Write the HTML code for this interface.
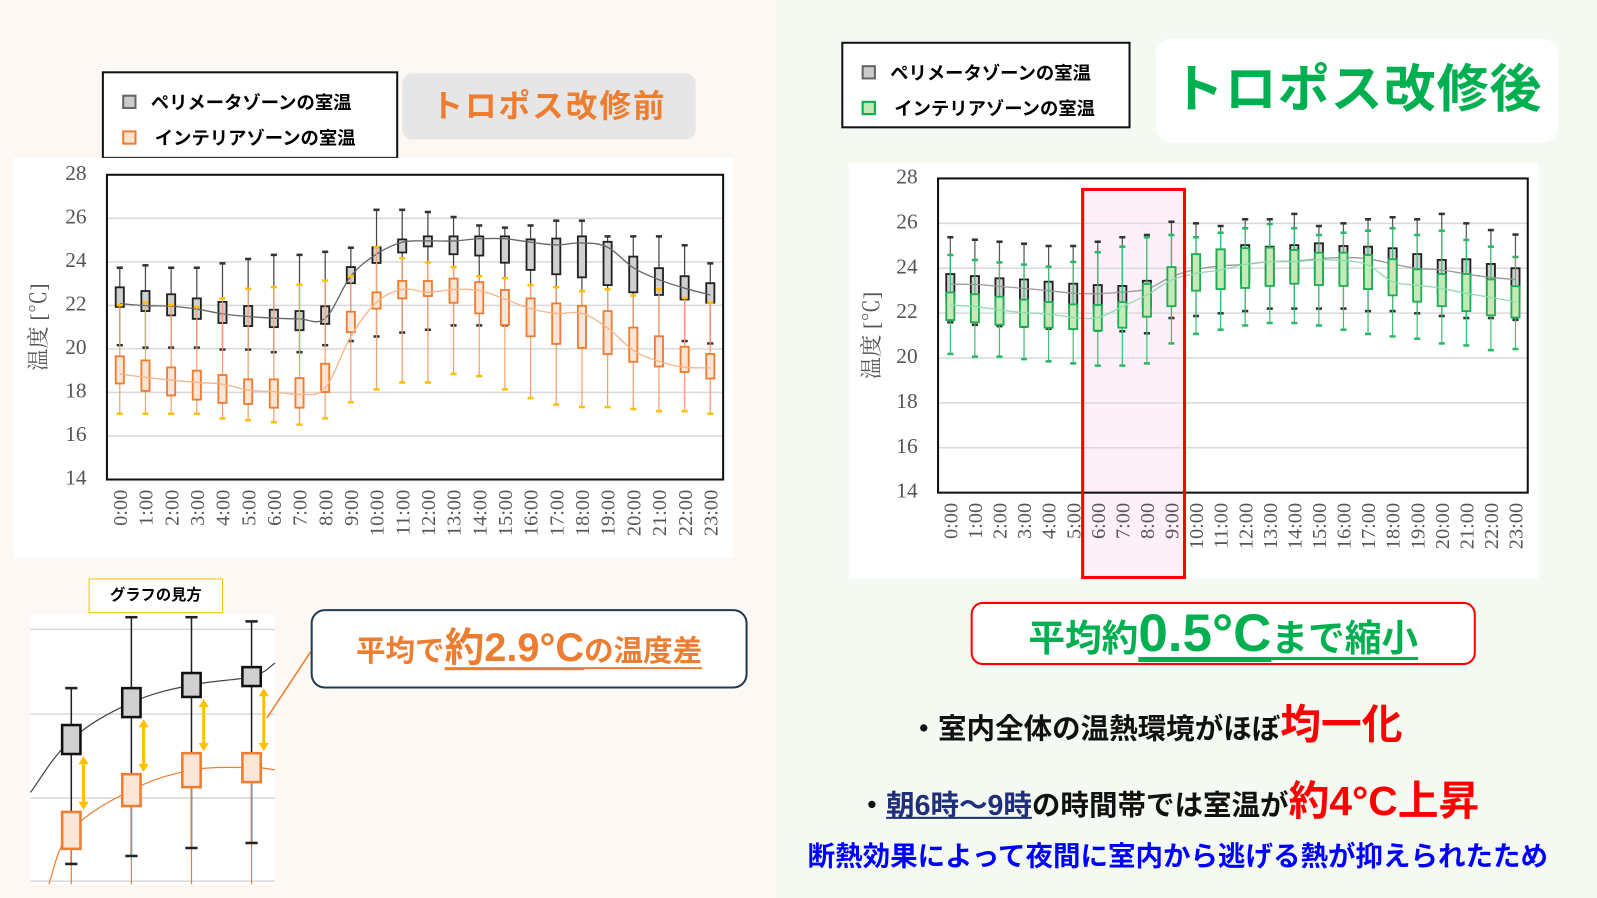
<!DOCTYPE html>
<html><head><meta charset="utf-8">
<style>
body{margin:0;width:1597px;height:898px;overflow:hidden;font-family:"Liberation Sans","Noto Sans CJK JP",sans-serif;background:#f4f9f2;}
.abs{position:absolute;}
#wrap{position:absolute;left:0;top:0;width:1568px;height:882px;transform:scale(1.0185);transform-origin:0 0;}
</style></head>
<body>
<div id="wrap">
<div class="abs" style="left:0;top:0;width:762px;height:882px;background:#fdf8f4;"></div>
<div class="abs" style="left:762px;top:0;width:806px;height:882px;background:#f4f9f2;"></div>

<div class="abs" style="left:100px;top:70px;width:287px;height:82px;border:2px solid #111;background:#fff;font-size:18px;font-weight:bold;">
 <div style="position:absolute;left:18px;top:15px;white-space:nowrap;"><span style="display:inline-block;width:10px;height:10px;border:2px solid #666;background:#ccc;margin-right:14px;"></span>ペリメータゾーンの室温</div>
 <div style="position:absolute;left:18px;top:50px;white-space:nowrap;"><span style="display:inline-block;width:10px;height:10px;border:2px solid #ed7d31;background:#fbe3d3;margin-right:18px;"></span>インテリアゾーンの室温</div>
</div>
<div class="abs" style="left:395px;top:72px;width:288px;height:65px;background:#e6e6e6;border-radius:10px;color:#ed7d31;font-size:31px;font-weight:bold;line-height:65px;text-align:center;letter-spacing:2px;">トロポス改修前</div>

<div class="abs" style="left:826px;top:41px;width:280px;height:81px;border:2px solid #111;background:#fff;font-size:18px;font-weight:bold;">
 <div style="position:absolute;left:18px;top:15px;white-space:nowrap;"><span style="display:inline-block;width:10px;height:10px;border:2px solid #666;background:#ccc;margin-right:14px;"></span>ペリメータゾーンの室温</div>
 <div style="position:absolute;left:18px;top:50px;white-space:nowrap;"><span style="display:inline-block;width:10px;height:10px;border:2px solid #00b050;background:#c6e9b8;margin-right:18px;"></span>インテリアゾーンの室温</div>
</div>
<div class="abs" style="left:1135px;top:38px;width:395px;height:102px;background:#fff;border-radius:16px;color:#00b050;font-size:51px;font-weight:bold;line-height:100px;text-align:center;letter-spacing:1px;">トロポス改修後</div>

<svg class="abs" style="left:0;top:0" width="1568" height="882" id="svg"></svg>

<div class="abs" style="left:87px;top:568px;width:130px;height:32px;border:1px solid #f5c000;background:#fff;font-size:15px;font-weight:bold;text-align:center;line-height:32px;">グラフの見方</div>

<div class="abs" style="left:305px;top:598px;width:425px;height:74px;border:2px solid #1f3b4d;border-radius:14px;background:#fff;color:#ed7d31;font-weight:bold;text-align:center;line-height:74px;font-size:29px;white-space:nowrap;">平均で<span style="font-size:39px;text-decoration:underline;text-underline-offset:6px;">約2.9°C</span><span style="text-decoration:underline;text-underline-offset:6px;">の温度差</span></div>

<div class="abs" style="left:953px;top:591px;width:492px;height:58px;border:2px solid #ff0000;border-radius:12px;background:#fff;color:#00b050;font-weight:bold;text-align:center;line-height:58px;font-size:36px;white-space:nowrap;">平均約<span style="font-size:52px;text-decoration:underline;text-underline-offset:6px;">0.5°C</span><span style="text-decoration:underline;text-underline-offset:6px;">まで縮小</span></div>

<div class="abs" style="left:893px;top:679px;font-size:28px;font-weight:bold;color:#111;white-space:nowrap;">・室内全体の温熱環境がほぼ<span style="color:#ff0000;font-size:40px;">均一化</span></div>
<div class="abs" style="left:842px;top:754px;font-size:28px;font-weight:bold;color:#111;white-space:nowrap;">・<span style="color:#1f2f7a;text-decoration:underline;">朝6時～9時</span>の時間帯では室温が<span style="color:#ff0000;font-size:40px;">約4°C上昇</span></div>
<div class="abs" style="left:793px;top:819px;font-size:27px;font-weight:bold;color:#0000ff;white-space:nowrap;">断熱効果によって夜間に室内から逃げる熱が抑えられたため</div>
</div>

<script>
const hours = ["0:00","1:00","2:00","3:00","4:00","5:00","6:00","7:00","8:00","9:00","10:00","11:00","12:00","13:00","14:00","15:00","16:00","17:00","18:00","19:00","20:00","21:00","22:00","23:00"];
const yTicks = [14,16,18,20,22,24,26,28];
// Before: perimeter
const bPerWhiskerTop = [23.73,23.84,23.73,23.73,23.93,24.13,24.32,24.32,24.46,24.65,26.39,26.39,26.29,26.06,25.67,25.57,25.67,25.89,25.89,25.17,25.17,25.17,24.76,23.93];
const bPerBoxTop = [22.83,22.66,22.51,22.32,22.16,21.97,21.80,21.74,21.96,23.76,24.67,25.03,25.17,25.17,25.17,25.17,25.03,25.07,25.17,24.92,24.24,23.71,23.34,23.02];
const bPerBoxBottom = [21.93,21.74,21.54,21.38,21.19,21.05,21.00,20.86,21.15,23.02,23.95,24.43,24.71,24.35,24.29,23.96,23.63,23.43,23.29,22.93,22.60,22.48,22.27,22.12];
const bPerWhiskerBottom = [20.17,20.06,20.06,20.06,19.97,19.97,19.85,19.85,20.17,20.36,20.57,20.75,20.88,21.08,21.08,21.08,20.99,20.99,20.99,20.83,20.60,20.36,20.36,20.25];
const bPerMean = [22.08,21.99,21.96,21.83,21.61,21.49,21.41,21.38,21.41,23.34,24.35,24.90,24.96,24.96,25.06,25.06,24.90,24.78,24.87,24.67,23.73,23.18,22.79,22.48];
// Before: interior
const bIntWhiskerTop = [22.01,22.13,22.02,21.93,22.32,22.76,22.84,22.95,23.14,23.34,24.68,24.17,23.97,23.76,23.34,23.25,22.93,22.84,22.65,22.74,22.45,22.74,22.34,22.12];
const bIntBoxTop = [19.66,19.47,19.15,19.00,18.80,18.60,18.60,18.66,19.32,21.71,22.60,23.12,23.12,23.23,23.07,22.71,22.32,22.09,21.98,21.74,20.98,20.58,20.10,19.77];
const bIntBoxBottom = [18.41,18.07,17.86,17.67,17.52,17.47,17.30,17.30,18.02,20.77,21.85,22.32,22.43,22.12,21.63,21.10,20.58,20.23,20.05,19.76,19.41,19.19,18.94,18.64];
const bIntWhiskerBottom = [17.02,17.02,17.02,17.02,16.81,16.72,16.63,16.52,16.81,17.55,18.14,18.46,18.46,18.85,18.75,18.14,17.74,17.44,17.33,17.33,17.24,17.14,17.14,17.02];
const bIntMean = [18.85,18.69,18.57,18.46,18.38,18.11,18.03,17.91,18.22,20.57,22.13,22.73,22.60,22.73,22.68,22.29,21.85,21.63,21.63,20.96,19.94,19.43,19.16,19.13];
// After: perimeter
const aPerWhiskerTop = [25.38,25.27,25.18,25.09,24.99,24.99,25.18,25.38,25.48,26.07,26.00,25.88,26.18,26.18,26.42,25.88,26.00,26.18,26.27,26.18,26.42,26.00,25.70,25.50];
const aPerBoxTop = [23.74,23.65,23.55,23.50,23.40,23.31,23.25,23.21,23.44,23.92,24.59,24.84,25.03,24.96,25.03,25.11,24.99,24.96,24.89,24.63,24.37,24.40,24.19,24.00];
const aPerBoxBottom = [22.66,22.55,22.43,22.36,22.29,22.26,22.21,22.21,22.26,22.36,23.18,23.10,23.33,23.25,23.47,23.50,23.25,23.50,23.40,23.25,22.95,22.80,22.66,22.70];
const aPerWhiskerBottom = [21.59,21.48,21.42,21.39,21.30,21.30,21.22,21.19,21.10,21.78,21.87,21.99,22.09,22.20,22.20,22.20,22.20,22.09,22.09,21.99,21.87,21.78,21.78,21.70];
const aPerMean = [23.28,23.28,23.19,23.10,23.00,22.89,22.86,22.94,23.07,23.62,23.95,24.10,24.17,24.29,24.32,24.42,24.48,24.42,24.19,23.99,23.92,23.74,23.59,23.50];
// After: interior
const aIntWhiskerTop = [24.59,24.37,24.26,24.16,24.07,24.28,24.71,24.96,25.38,25.48,25.38,25.58,25.78,25.97,25.78,25.48,25.58,25.67,25.78,25.48,25.67,25.26,24.96,24.50];
const aIntBoxTop = [22.92,22.84,22.73,22.60,22.49,22.39,22.36,22.49,23.30,24.05,24.63,24.84,24.89,24.92,24.81,24.69,24.69,24.59,24.40,23.95,23.74,23.74,23.50,23.20];
const aIntBoxBottom = [21.69,21.59,21.48,21.39,21.35,21.29,21.22,21.35,21.84,22.31,23.00,23.07,23.12,23.21,23.31,23.25,23.21,23.07,22.79,22.51,22.31,22.09,21.90,21.80];
const aIntWhiskerBottom = [20.18,20.06,20.06,19.95,19.85,19.76,19.66,19.66,19.76,20.65,21.07,21.26,21.45,21.56,21.56,21.45,21.26,21.07,20.96,20.86,20.65,20.56,20.35,20.40];
const aIntMean = [22.36,22.29,22.14,22.02,21.96,21.81,21.80,22.29,22.81,23.47,23.77,23.92,24.17,24.29,24.29,24.37,24.34,24.14,23.40,23.25,23.10,22.88,22.70,22.50];
// Guide inset (illustrative 4 boxes)
const gPerTop=[25.43,26.31,26.67,26.81], gPerBot=[24.74,25.62,26.10,26.36], gPerWT=[26.31,28.0,28.0,27.9], gPerWB=[22.12,22.31,22.50,22.62];
const gIntTop=[23.36,24.26,24.76,24.76], gIntBot=[22.48,23.50,23.95,24.07];
const gGrid=[27.71,25.69,23.69,21.71];

const NS="http://www.w3.org/2000/svg";
const svg=document.getElementById('svg');
function el(tag,attrs,parent){const e=document.createElementNS(NS,tag);for(const k in attrs)e.setAttribute(k,attrs[k]);(parent||svg).appendChild(e);return e;}
function smooth(pts){let d=`M${pts[0][0]},${pts[0][1]}`;for(let i=0;i<pts.length-1;i++){const p0=pts[i-1]||pts[i],p1=pts[i],p2=pts[i+1],p3=pts[i+2]||p2;const t=0.18;d+=` C${p1[0]+(p2[0]-p0[0])*t},${p1[1]+(p2[1]-p0[1])*t} ${p2[0]-(p3[0]-p1[0])*t},${p2[1]-(p3[1]-p1[1])*t} ${p2[0]},${p2[1]}`;}return d;}

function chart(o){
 const g=el('g',{});
 
 
 el('rect',{x:o.bg[0],y:o.bg[1],width:o.bg[2],height:o.bg[3],fill:'#fff'},g);
 const y=v=>o.y1+(28-v)/14*(o.y2-o.y1);
 const bw=(o.x2-o.x1)/hours.length;
 const x=i=>o.x1+(i+0.5)*bw;
 if(o.hl){const r=el('rect',{x:o.hl[0],y:o.hl[1],width:o.hl[2],height:o.hl[3],fill:'#fdf0f8',stroke:'none'},g);}
 yTicks.forEach(t=>{
  if(t>14&&t<28){const l=el('line',{x1:o.x1,x2:o.x2,y1:y(t),y2:y(t),stroke:'#d9d9d9','stroke-width':1.5},g);}
  const tx=el('text',{x:o.x1-20,y:y(t)+7+o.lblOff,'text-anchor':'end','font-family':'Liberation Serif, serif','font-size':21,fill:'#555'},g);tx.textContent=t;
  
  
 });
 hours.forEach((h,i)=>{const tx=el('text',{transform:`translate(${x(i)+7},${o.y2+10}) rotate(-90)`,'text-anchor':'end','font-family':'Liberation Serif, serif','font-size':20,fill:'#555'},g);tx.textContent=h;
  
  });
 const yt=el('text',{transform:`translate(${o.ytx},${(o.y1+o.y2)/2}) rotate(-90)`,'text-anchor':'middle','font-size':22,fill:'#555','font-family':'Liberation Serif, Noto Serif CJK SC, serif'},g);yt.textContent='温度 [℃]';
 
 
 o.series.forEach(s=>{
  const w=8;
  hours.forEach((h,i)=>{
   const cx=x(i);
   el('line',{x1:cx,x2:cx,y1:y(s.wt[i]),y2:y(s.wb[i]),stroke:s.wc,'stroke-width':1.2},g);
   el('line',{x1:cx-3,x2:cx+3,y1:y(s.wt[i]),y2:y(s.wt[i]),stroke:s.cap,'stroke-width':2.5},g);
   el('line',{x1:cx-3,x2:cx+3,y1:y(s.wb[i]),y2:y(s.wb[i]),stroke:s.cap,'stroke-width':2.5},g);
   const b=el('rect',{x:cx-w/2,y:y(s.bt[i]),width:w,height:y(s.bb[i])-y(s.bt[i]),fill:s.fill,stroke:s.stroke,'stroke-width':1.8},g);
   
   
  });
  const p=el('path',{d:smooth(s.m.map((v,i)=>[x(i),y(v)])),fill:'none',stroke:s.line,'stroke-width':1.3},g);
  
  
 });
 el('rect',{x:o.x1,y:o.y1,width:o.x2-o.x1,height:o.y2-o.y1,fill:'none',stroke:'#111','stroke-width':2},g);
 if(o.hl){const r=el('rect',{x:o.hl[0],y:o.hl[1],width:o.hl[2],height:o.hl[3],fill:'none',stroke:'#ff0000','stroke-width':3},g);}
}
chart({name:'chart-before',bg:[13,155,707,393],x1:105,x2:710,y1:171.6,y2:470.8,lblOff:-2,ytx:45,series:[
 {key:'perimeter',wt:bPerWhiskerTop,bt:bPerBoxTop,bb:bPerBoxBottom,wb:bPerWhiskerBottom,m:bPerMean,wc:'#444',cap:'#333',fill:'#d0d0d0',stroke:'#222',line:'#666'},
 {key:'interior',wt:bIntWhiskerTop,bt:bIntBoxTop,bb:bIntBoxBottom,wb:bIntWhiskerBottom,m:bIntMean,wc:'#f4a070',cap:'#ffc000',fill:'#fbe5d6',stroke:'#ed7d31',line:'#f8b58a'}]});
chart({name:'chart-after',bg:[833,160,677,408],x1:921,x2:1500,y1:175.2,y2:483.7,lblOff:-2,ytx:863,hl:[1063,186,100,381],series:[
 {key:'perimeter',wt:aPerWhiskerTop,bt:aPerBoxTop,bb:aPerBoxBottom,wb:aPerWhiskerBottom,m:aPerMean,wc:'#555',cap:'#333',fill:'#d0d0d0',stroke:'#222',line:'#999'},
 {key:'interior',wt:aIntWhiskerTop,bt:aIntBoxTop,bb:aIntBoxBottom,wb:aIntWhiskerBottom,m:aIntMean,wc:'#3cc07a',cap:'#2bb866',fill:'#c6e9b8',stroke:'#1fae55',line:'#8fdcb0'}]});

// Guide inset
(function(){
 const g=el('g',{});
 
 
 el('rect',{x:30,y:603,width:240,height:265,fill:'#fff'},g);
 const y=v=>606+(28-v)*41.2;
 const xs=i=>70+i*59;
 gGrid.forEach(t=>el('line',{x1:30,x2:270,y1:y(t),y2:y(t),stroke:'#d9d9d9','stroke-width':1.5},g));
 el('path',{d:smooth([[30,778]].concat(gPerTop.map((v,i)=>[xs(i),(y(v)+y(gPerBot[i]))/2])).concat([[270,651]])),fill:'none',stroke:'#444','stroke-width':1.2},g);
 el('path',{d:smooth([[48,868]].concat(gIntTop.map((v,i)=>[xs(i),(y(v)+y(gIntBot[i]))/2])).concat([[270,756]])),fill:'none',stroke:'#ed7d31','stroke-width':1.2},g);
 gPerTop.forEach((v,i)=>{const cx=xs(i);
  el('line',{x1:cx,x2:cx,y1:y(gPerWT[i]),y2:y(gPerWB[i]),stroke:'#222','stroke-width':1.5},g);
  el('line',{x1:cx,x2:cx,y1:y(gIntBot[i]),y2:868,stroke:'#ed7d31','stroke-width':1.2},g);
  el('line',{x1:cx-6,x2:cx+6,y1:y(gPerWT[i]),y2:y(gPerWT[i]),stroke:'#222','stroke-width':2.5},g);
  el('line',{x1:cx-6,x2:cx+6,y1:y(gPerWB[i]),y2:y(gPerWB[i]),stroke:'#222','stroke-width':2.5},g);
  el('rect',{x:cx-9,y:y(v),width:18,height:y(gPerBot[i])-y(v),fill:'#d0d0d0',stroke:'#111','stroke-width':2.5},g);
  el('rect',{x:cx-9,y:y(gIntTop[i]),width:18,height:y(gIntBot[i])-y(gIntTop[i]),fill:'#fbe5d6',stroke:'#ed7d31','stroke-width':2.5},g);
  const ax=cx+12,a1=y(gPerBot[i])+2,a2=y(gIntTop[i])-2;
  const ar=el('line',{x1:ax,x2:ax,y1:a1+6,y2:a2-6,stroke:'#ffc000','stroke-width':3},g);
  
  
  el('path',{d:`M${ax-5},${a1+8}L${ax},${a1}L${ax+5},${a1+8}Z M${ax-5},${a2-8}L${ax},${a2}L${ax+5},${a2-8}Z`,fill:'#ffc000'},g);
 });
 el('line',{x1:305,y1:640,x2:262,y2:705,stroke:'#ed7d31','stroke-width':1.5},g);
})();
</script>
</body></html>
